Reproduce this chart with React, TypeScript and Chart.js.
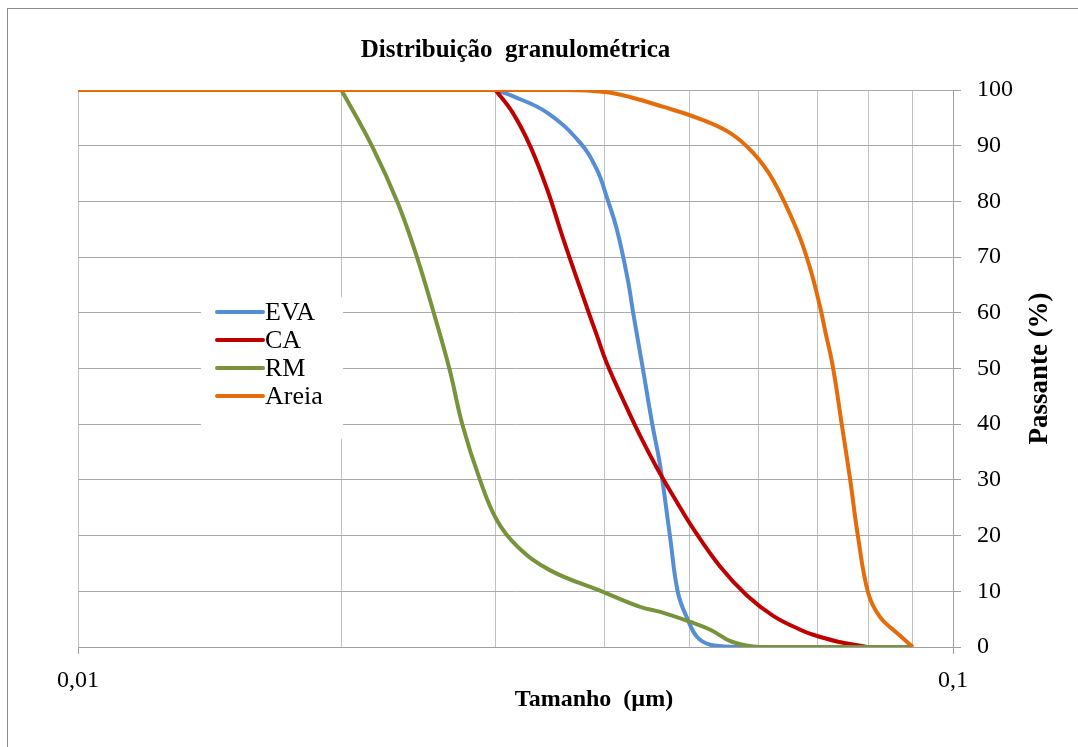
import { useEffect, useRef } from 'react';
import { Chart, registerables } from 'chart.js';

Chart.register(...registerables);

// Particle size (µm) and cumulative passing (%) for each material
const evaSize = [0.03, 0.0314, 0.0344, 0.0375, 0.0392, 0.0402, 0.0413, 0.0425, 0.0431, 0.0442, 0.0453, 0.0463, 0.0475, 0.0485, 0.0498, 0.051, 0.0528, 0.0567, 0.06];
const evaPassing = [100, 98.9, 95.9, 90.5, 85.6, 80.8, 74.9, 65.9, 60, 50.1, 40.2, 32.3, 19.7, 9.7, 4.8, 1.8, 0.4, 0, 0];

const caSize = [0.03, 0.0314, 0.0329, 0.0344, 0.0358, 0.0378, 0.0392, 0.0402, 0.042, 0.0439, 0.0459, 0.0484, 0.0505, 0.0542, 0.0581, 0.0623, 0.0669, 0.0692, 0.0737, 0.0797];
const caPassing = [100, 95.9, 89.8, 82, 73.6, 62.8, 55.8, 51, 44.3, 37.9, 32.1, 25.9, 21.2, 14.4, 9.3, 5.6, 3.1, 2.2, 1.0, 0];

const rmSize = [0.02, 0.0217, 0.0232, 0.0244, 0.0255, 0.0266, 0.0275, 0.0288, 0.0301, 0.0318, 0.0346, 0.0398, 0.0439, 0.0463, 0.0501, 0.0528, 0.056, 0.0602, 0.09];
const rmPassing = [100, 89.8, 79.7, 70, 60, 49.7, 39.9, 30, 22.8, 18, 13.8, 9.9, 7.2, 6.3, 4.5, 3.1, 0.9, 0, 0];

const areiaSize = [0.01, 0.036, 0.0402, 0.0428, 0.0466, 0.051, 0.0556, 0.0591, 0.0623, 0.0663, 0.0686, 0.0705, 0.0714, 0.0729, 0.0747, 0.0763, 0.0779, 0.08, 0.0825, 0.0863, 0.09];
const areiaPassing = [100, 100, 99.6, 98.7, 97, 95, 92.3, 88.7, 83.8, 74.9, 68.2, 61, 56.9, 50.3, 39.5, 30, 19.7, 9.7, 5.4, 2.5, 0];

const seriesNames = ['EVA', 'CA', 'RM', 'Areia'];
const seriesColors = ['#558ED5', '#C00000', '#77933C', '#E46C0A'];

// Log-axis grid positions and the two labelled decades
const xGridValues = [0.01, 0.02, 0.03, 0.04, 0.05, 0.06, 0.07, 0.08, 0.09, 0.1];
const xTickValues = [0.01, 0.1];
const xTickLabels = ['0,01', '0,1'];

const chartTitle = 'Distribuição  granulométrica';
const xTitle = 'Tamanho  (µm)';
const yTitle = 'Passante (%)';

const SERIF = "'Liberation Serif', 'Times New Roman', serif";

const toPoints = (xs: number[], ys: number[]) => xs.map((x, i) => ({ x, y: ys[i] }));

const majorLabel = (v: number) => {
  const i = xTickValues.findIndex((t) => Math.abs(t - v) < 1e-9);
  return i >= 0 ? xTickLabels[i] : '';
};

// White legend panel, inline legend entries and the two axis titles
const overlay = {
  id: 'overlay',
  beforeDatasetsDraw(chart: any) {
    const { ctx, chartArea } = chart;
    ctx.save();
    ctx.fillStyle = '#ffffff';
    ctx.fillRect(chartArea.left + 123, chartArea.top + 207, 142, 142);
    ctx.restore();
  },
  afterDraw(chart: any) {
    const { ctx, chartArea } = chart;
    ctx.save();
    // legend
    const lx = chartArea.left + 139;
    const ly = chartArea.top + 222;
    ctx.font = `26px ${SERIF}`;
    ctx.textAlign = 'left';
    ctx.textBaseline = 'middle';
    ctx.lineCap = 'round';
    seriesNames.forEach((name, i) => {
      const y = ly + i * 28;
      ctx.strokeStyle = seriesColors[i];
      ctx.lineWidth = 4;
      ctx.beginPath();
      ctx.moveTo(lx, y);
      ctx.lineTo(lx + 46, y);
      ctx.stroke();
      ctx.fillStyle = '#000';
      ctx.fillText(name, lx + 48, y + 1);
    });
    // x axis title
    ctx.font = `bold 24px ${SERIF}`;
    ctx.textAlign = 'center';
    ctx.fillText(xTitle, chartArea.left + 516, chartArea.bottom + 53);
    // y axis title, reading bottom to top
    ctx.font = `bold 27px ${SERIF}`;
    ctx.translate(chartArea.right + 87, (chartArea.top + chartArea.bottom) / 2);
    ctx.rotate(-Math.PI / 2);
    ctx.fillText(yTitle, 0, 0);
    ctx.restore();
  },
};

export default function App() {
  const ref = useRef<HTMLCanvasElement>(null);

  useEffect(() => {
    if (!ref.current) return;
    const sizes = [evaSize, caSize, rmSize, areiaSize];
    const values = [evaPassing, caPassing, rmPassing, areiaPassing];
    const chart = new Chart(ref.current, {
      type: 'line',
      data: {
        datasets: seriesNames.map((name, i) => ({
          label: name,
          data: toPoints(sizes[i], values[i]),
          borderColor: seriesColors[i],
          backgroundColor: seriesColors[i],
          borderWidth: 4,
          pointRadius: 0,
          fill: false,
          tension: 0.4,
          order: seriesNames.length - i,
        })),
      },
      options: {
        animation: false,
        responsive: false,
        layout: { padding: { left: 78, right: 0, top: 0, bottom: 0 } },
        plugins: {
          legend: { display: false },
          tooltip: { enabled: false },
          title: {
            display: true,
            text: chartTitle,
            fullSize: false,
            color: '#000',
            font: { family: SERIF, size: 25, weight: 'bold' },
            padding: { top: 36, bottom: 24 },
          },
        },
        scales: {
          x: {
            type: 'logarithmic',
            min: 0.01,
            max: 0.1,
            afterBuildTicks: (s: any) => {
              s.ticks = xGridValues.map((value) => ({ value }));
            },
            afterFit: (s: any) => {
              s.height = 100;
            },
            grid: {
              color: '#c2c2c2',
              lineWidth: 1,
              tickLength: 7,
              tickColor: (c: any) => (majorLabel(c.tick?.value) ? '#a0a0a0' : 'rgba(0,0,0,0)'),
            },
            border: { display: true, color: '#a0a0a0', width: 1 },
            ticks: {
              autoSkip: false,
              maxRotation: 0,
              padding: 12,
              color: '#000',
              font: { family: SERIF, size: 24 },
              callback: (v: any) => majorLabel(Number(v)),
            },
          },
          y: {
            position: 'right',
            min: 0,
            max: 100,
            afterFit: (s: any) => {
              s.width = 125;
            },
            grid: { color: '#aaaaaa', lineWidth: 1, tickLength: 8, tickColor: '#a0a0a0' },
            border: { display: true, color: '#a0a0a0', width: 1 },
            ticks: {
              stepSize: 10,
              padding: 16,
              color: '#000',
              font: { family: SERIF, size: 24 },
            },
          },
        },
      },
      plugins: [overlay],
    });
    return () => chart.destroy();
  }, []);

  return (
    <div style={{ position: 'absolute', left: 0, top: 0, width: 1078, height: 747, background: '#fff', overflow: 'hidden' }}>
      <canvas ref={ref} width={1078} height={747} style={{ display: 'block' }} />
      <div
        style={{
          position: 'absolute',
          left: 7,
          top: 8,
          width: 1071,
          height: 739,
          borderTop: '1px solid #8c8c8c',
          borderLeft: '1px solid #8c8c8c',
          boxSizing: 'border-box',
          pointerEvents: 'none',
        }}
      />
    </div>
  );
}
